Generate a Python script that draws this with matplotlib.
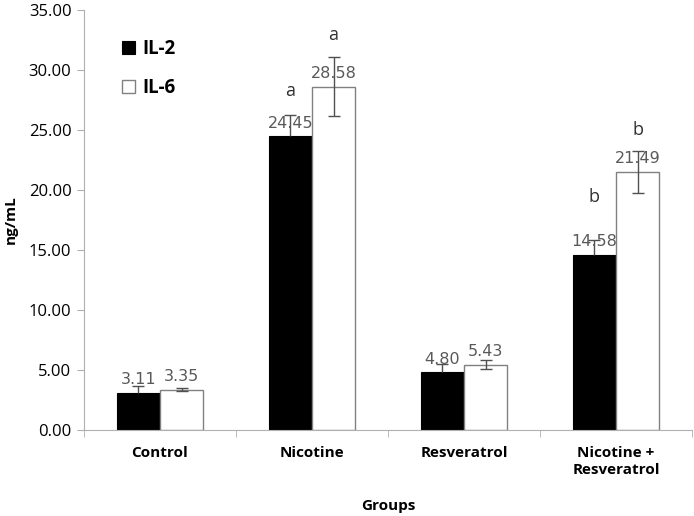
import matplotlib.pyplot as plt
import numpy as np

# Données
groups = ['Control', 'Nicotine', 'Resveratrol', 'Nicotine +\nResveratrol']
il2 = [3.11, 24.45, 4.80, 14.58]
il6 = [3.35, 28.58, 5.43, 21.49]
il2_err = [0.55, 1.75, 0.70, 1.20]
il6_err = [0.12, 2.45, 0.35, 1.75]
il2_letters = ['', 'a', '', 'b']
il6_letters = ['', 'a', '', 'b']
il2_letter_y = [0, 28.2, 0, 19.4]
il6_letter_y = [0, 32.9, 0, 25.0]

plt.rcParams['font.family'] = ['Open Sans', 'DejaVu Sans']

fig = plt.figure(figsize=(6.94, 5.16), dpi=100)
ax = fig.add_axes([0.121, 0.167, 0.876, 0.814])

x = np.arange(len(groups))
w = 0.285
grey = '#808080'
err_kw = dict(ecolor='#505050', elinewidth=1.0, capsize=4, capthick=1.0)

# IL-2 : barre d'erreur vers le haut seulement (cachée dans la barre noire)
b2 = ax.bar(x - w / 2, il2, w, yerr=[np.zeros(len(il2)), il2_err], color='black',
            edgecolor='black', linewidth=0.8, error_kw=err_kw, label='IL-2')
b2.errorbar.lines[1][0].set_visible(False)
ax.bar(x + w / 2, il6, w, yerr=il6_err, color='white', edgecolor=grey,
       linewidth=1.0, error_kw=err_kw, label='IL-6')

# Étiquettes de valeurs
for i in range(len(groups)):
    ax.annotate(f'{il2[i]:.2f}', (x[i] - w / 2, il2[i]), xytext=(0, 4),
                textcoords='offset points', ha='center', va='bottom',
                fontsize=11.5, color='#595959', family='DejaVu Sans')
    ax.annotate(f'{il6[i]:.2f}', (x[i] + w / 2, il6[i]), xytext=(0, 4),
                textcoords='offset points', ha='center', va='bottom',
                fontsize=11.5, color='#595959', family='DejaVu Sans')
    if il2_letters[i]:
        ax.text(x[i] - w / 2, il2_letter_y[i], il2_letters[i], ha='center',
                va='center', fontsize=13, color='#303030')
    if il6_letters[i]:
        ax.text(x[i] + w / 2, il6_letter_y[i], il6_letters[i], ha='center',
                va='center', fontsize=13, color='#303030')

ax.set_xlim(-0.5, 3.5)
ax.set_ylim(0, 35)
ax.set_yticks(np.arange(0, 35.1, 5))
ax.set_yticklabels([f'{v:.2f}' for v in np.arange(0, 35.1, 5)], fontsize=12)
ax.set_xticks(x)
ax.set_xticklabels(groups, fontsize=11, fontweight='bold')
ax.set_xticks(np.arange(-0.5, 3.6, 1), minor=True)
ax.tick_params(axis='x', which='major', length=0, pad=12)
ax.tick_params(axis='x', which='minor', length=5, color='#b0b0b0')
ax.tick_params(axis='y', length=5, color='#b0b0b0', pad=4)

for s in ['top', 'right']:
    ax.spines[s].set_visible(False)
for s in ['left', 'bottom']:
    ax.spines[s].set_color('#b0b0b0')

ax.set_xlabel('Groups', fontsize=11, fontweight='bold', labelpad=16)
ax.set_ylabel('ng/mL', fontsize=11, fontweight='bold', labelpad=8)

leg = ax.legend(loc='upper left', bbox_to_anchor=(0.035, 0.97), frameon=False,
                prop={'weight': 'bold', 'size': 13.5}, handlelength=0.7,
                handleheight=0.7, labelspacing=1.0, handletextpad=0.4)

fig.savefig('out.png', dpi=100)
